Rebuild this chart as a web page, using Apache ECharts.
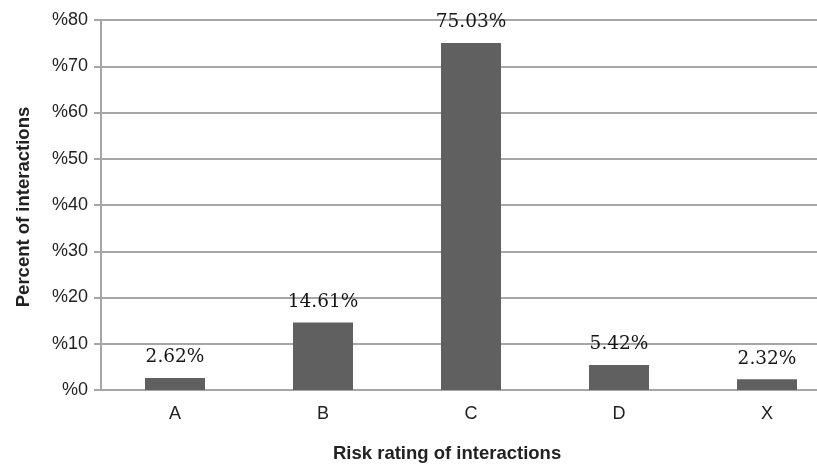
<!DOCTYPE html>
<html>
<head>
<meta charset="utf-8">
<script src="https://cdn.jsdelivr.net/npm/echarts@6/dist/echarts.min.js"></script>
<style>
html,body{margin:0;padding:0;background:#fff;overflow:hidden;width:817px;height:467px;}
#chart{width:850px;height:467px;}
</style>
</head>
<body>
<div id="chart"></div>
<script>
var categories = ['A', 'B', 'C', 'D', 'X'];
var values = [2.62, 14.61, 75.03, 5.42, 2.32];
var yTicks = [0, 10, 20, 30, 40, 50, 60, 70, 80];
var xTitle = 'Risk rating of interactions';
var yTitle = 'Percent of interactions';

var chart = echarts.init(document.getElementById('chart'), null, {renderer: 'canvas'});
chart.setOption({
  animation: false,
  backgroundColor: '#ffffff',
  grid: {left: 101, top: 20, width: 740, height: 370},
  xAxis: {
    type: 'category',
    data: categories,
    axisLine: {show: true, lineStyle: {color: '#a6a6a6', width: 2}},
    axisTick: {show: false},
    axisLabel: {color: '#222', fontFamily: 'Liberation Sans, Arial, sans-serif', fontSize: 18, margin: 15}
  },
  yAxis: {
    type: 'value',
    min: yTicks[0],
    max: yTicks[yTicks.length - 1],
    interval: 10,
    axisLine: {show: true, lineStyle: {color: '#a6a6a6', width: 2}},
    axisTick: {show: true, inside: false, length: 7, lineStyle: {color: '#a6a6a6', width: 2}},
    splitLine: {show: true, lineStyle: {color: '#a6a6a6', width: 2}},
    axisLabel: {
      color: '#222', fontFamily: 'Liberation Sans, Arial, sans-serif', fontSize: 18, margin: 13,
      formatter: function (v) { return '%' + v; }
    }
  },
  series: [{
    type: 'bar',
    data: values,
    barWidth: 60,
    itemStyle: {color: '#606060'},
    label: {
      show: true,
      position: 'top',
      distance: 11,
      color: '#151515',
      fontFamily: 'DejaVu Serif, serif',
      fontSize: 18.5,
      formatter: function (p) { return p.value.toFixed(2) + '%'; }
    }
  }],
  graphic: [
    {
      type: 'text', left: 333, top: 444,
      style: {text: xTitle, fill: '#222', font: 'bold 18.5px "Liberation Sans", Arial, sans-serif'}
    },
    {
      type: 'text', x: 24, y: 207, rotation: Math.PI / 2,
      style: {text: yTitle, fill: '#222', font: 'bold 18.5px "Liberation Sans", Arial, sans-serif', align: 'center', verticalAlign: 'middle'}
    }
  ]
});
</script>
</body>
</html>
